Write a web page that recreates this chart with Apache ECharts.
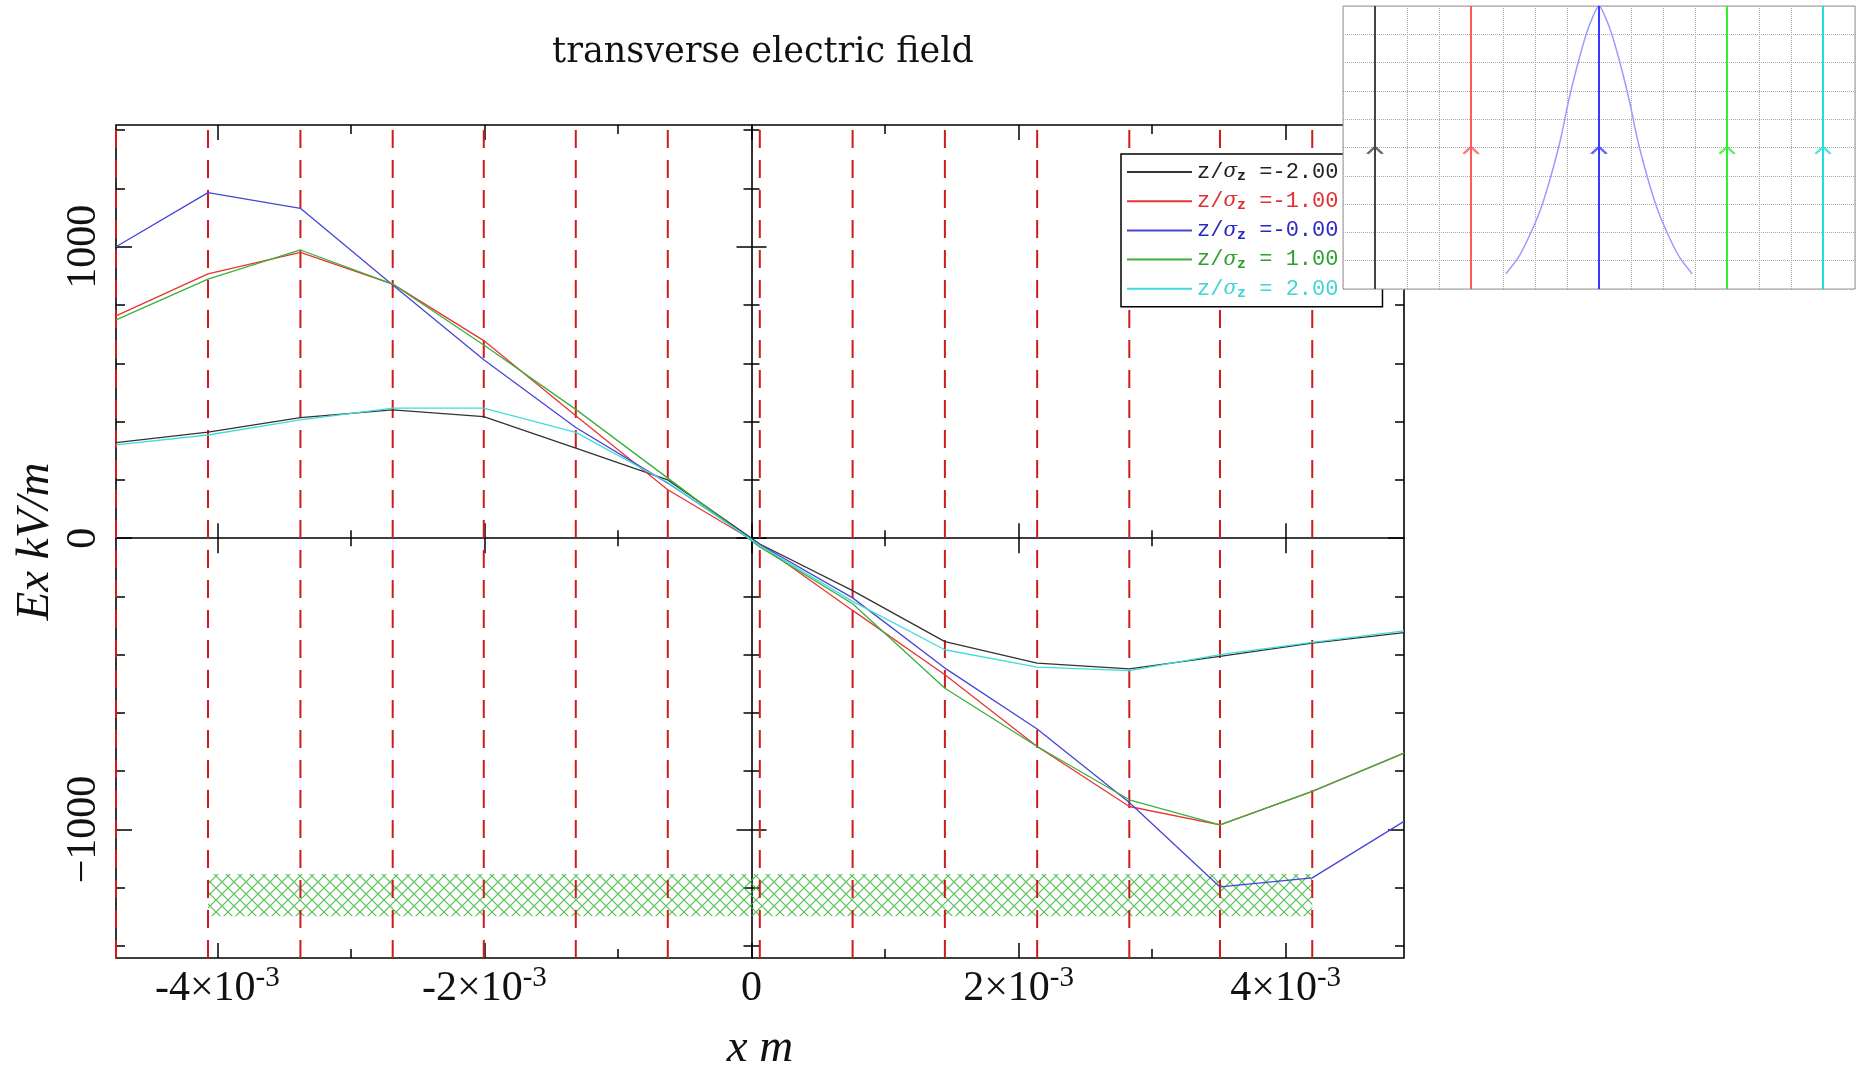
<!DOCTYPE html>
<html><head><meta charset="utf-8">
<script src="https://cdn.jsdelivr.net/npm/echarts@6/dist/echarts.min.js"></script>
<style>html,body{margin:0;padding:0;background:#fff}#c{width:1858px;height:1067px}</style>
</head><body><div id="c"></div>
<script>
// ---------- data ----------
const xs = [-4.759e-3, -4.070e-3, -3.378e-3, -2.687e-3, -2.005e-3, -1.316e-3, -0.627e-3, 0.062e-3,
            0.757e-3, 1.448e-3, 2.139e-3, 2.829e-3, 3.508e-3, 4.199e-3, 4.886e-3];
const zLabels = ['-2.00', '-1.00', '-0.00', ' 1.00', ' 2.00'];
const exZm2 = [328, 364, 414, 440, 417, 309, 200, -20, -180, -355, -429, -449, -406, -360, -324];
const exZm1 = [763, 907, 981, 872, 678, 420, 166, -22, -248, -469, -715, -921, -984, -869, -738];
const exZ0  = [1000, 1186, 1132, 869, 612, 380, 189, -22, -205, -446, -655, -907, -1197, -1166, -972];
const exZp1 = [749, 889, 989, 872, 663, 442, 206, -30, -225, -515, -715, -898, -984, -869, -738];
const exZp2 = [320, 354, 406, 446, 446, 363, 191, -25, -217, -383, -443, -455, -400, -358, -318];
const dashedXs = xs.slice(0, 14);
const bandX = [-4.070e-3, 4.199e-3];
const bandY = [-1298, -1153];
const xRange = [-4.759e-3, 4.886e-3];
const yRange = [-1441, 1418];
const xTicksMajor = [-4e-3, -2e-3, 0, 2e-3, 4e-3];
const xTicksMinor = [-4e-3, -3e-3, -2e-3, -1e-3, 0, 1e-3, 2e-3, 3e-3, 4e-3];
const yTicksMajor = [-1000, 0, 1000];
const yTicksMinor = [-1400, -1200, -1000, -800, -600, -400, -200, 0, 200, 400, 600, 800, 1000, 1200, 1400];
// inset
const insetXRange = [0, 16];
const insetYRange = [0, 10];
const insetPos = [1, 4, 8, 12, 15];
const insetArrowY = [4.9, 4.9, 4.9, 4.9, 4.9];
const gaussX = [5.09, 5.5, 5.89, 6.2, 6.5, 6.8, 7.04, 7.3, 7.6, 7.8, 8.0, 8.2, 8.4, 8.7, 8.96, 9.2, 9.5, 9.8, 10.11, 10.5, 10.91];
const gaussY = [0.54, 1.15, 2.04, 2.9, 4.0, 5.3, 6.6, 7.8, 9.0, 9.6, 10.0, 9.6, 9.0, 7.8, 6.6, 5.3, 4.0, 2.9, 2.04, 1.15, 0.54];

// ---------- styles ----------
const seriesVals = [exZm2, exZm1, exZ0, exZp1, exZp2];
const lineColors = ['#333333', '#e83434', '#4646d6', '#3cb03c', '#40dcdc'];
const textColors = ['#222222', '#e03030', '#2a2ac0', '#30a030', '#40d4d4'];
const insetColors = ['#444444', '#ff5a5a', '#3a3aff', '#33ee33', '#22dede'];

const hatch = document.createElement('canvas');
hatch.width = 12; hatch.height = 12;
(function () {
  const g = hatch.getContext('2d');
  g.strokeStyle = 'rgba(55,180,55,0.85)';
  g.lineWidth = 1.2;
  g.beginPath();
  g.moveTo(-1, -1); g.lineTo(13, 13);
  g.moveTo(13, -1); g.lineTo(-1, 13);
  g.stroke();
})();

function mkAxis(dim, pos, vals, len, inside, onZero, extra) {
  const range = dim === 'x' ? xRange : yRange;
  const o = {
    type: 'value', gridIndex: 0, position: pos, min: range[0], max: range[1],
    axisLine: { show: false, onZero: onZero, onZeroAxisIndex: 0 },
    axisTick: { show: true, inside: inside, length: len, customValues: vals,
                lineStyle: { color: '#000', width: 1.5 } },
    axisLabel: { show: false },
    splitLine: { show: false },
    silent: true
  };
  return Object.assign(o, extra || {});
}
const zeroLine = { show: true, onZero: true, onZeroAxisIndex: 0, lineStyle: { color: '#000', width: 1.6 } };

const xAxes = [
  mkAxis('x', 'bottom', xTicksMajor, 15, true, false, {
    axisLabel: {
      show: true, customValues: xTicksMajor, margin: 6,
      formatter: function (v) {
        const k = Math.round(v * 1000);
        if (k === 0) return '{n|0}';
        return '{n|' + (k < 0 ? '-' : '') + Math.abs(k) + '×10}{p|-3}';
      },
      rich: {
        n: { fontFamily: 'Liberation Serif', fontSize: 42, color: '#111', lineHeight: 46, verticalAlign: 'bottom' },
        p: { fontFamily: 'Liberation Serif', fontSize: 29, color: '#111', lineHeight: 46, verticalAlign: 'top' }
      }
    },
    name: 'x m', nameLocation: 'middle', nameGap: 67,
    nameTextStyle: { fontFamily: 'Liberation Serif', fontStyle: 'italic', fontSize: 47, color: '#111' }
  }),
  mkAxis('x', 'bottom', xTicksMinor, 9, true, false),
  mkAxis('x', 'top', xTicksMajor, 15, true, false),
  mkAxis('x', 'top', xTicksMinor, 9, true, false),
  mkAxis('x', 'bottom', xTicksMajor, 15, true, true, { axisLine: zeroLine }),
  mkAxis('x', 'bottom', xTicksMajor, 15, false, true),
  mkAxis('x', 'bottom', xTicksMinor, 8, true, true),
  mkAxis('x', 'bottom', xTicksMinor, 8, false, true),
  { type: 'value', gridIndex: 1, min: insetXRange[0], max: insetXRange[1], interval: 1, zlevel: 1,
    axisLine: { show: false }, axisTick: { show: false }, axisLabel: { show: false },
    splitLine: { show: true, lineStyle: { color: '#a8a8a8', type: 'dotted', width: 1 } } }
];
const yAxes = [
  mkAxis('y', 'left', yTicksMajor, 16, true, false, {
    axisLabel: {
      show: true, customValues: yTicksMajor, margin: 11, rotate: 90,
      fontFamily: 'Liberation Serif', fontSize: 42, color: '#111',
      formatter: function (v) { return v < 0 ? '\u2212' + Math.abs(v) : String(v); }
    },
    name: 'Ex kV/m', nameLocation: 'middle', nameGap: 57, nameRotate: 90, nameMoveOverlap: false,
    nameTextStyle: { fontFamily: 'Liberation Serif', fontStyle: 'italic', fontSize: 47, color: '#111' }
  }),
  mkAxis('y', 'left', yTicksMinor, 9, true, false),
  mkAxis('y', 'right', yTicksMajor, 16, true, false),
  mkAxis('y', 'right', yTicksMinor, 9, true, false),
  mkAxis('y', 'left', yTicksMajor, 15, true, true, { axisLine: zeroLine }),
  mkAxis('y', 'left', yTicksMajor, 15, false, true),
  mkAxis('y', 'left', yTicksMinor, 8, true, true),
  mkAxis('y', 'left', yTicksMinor, 8, false, true),
  { type: 'value', gridIndex: 1, min: insetYRange[0], max: insetYRange[1], interval: 1, zlevel: 1,
    axisLine: { show: false }, axisTick: { show: false }, axisLabel: { show: false },
    splitLine: { show: true, lineStyle: { color: '#a8a8a8', type: 'dotted', width: 1 } } }
];

const series = [];
// hatched band
series.push({
  type: 'line', name: 'band', xAxisIndex: 0, yAxisIndex: 0, data: [], silent: true, z: 1,
  markArea: {
    silent: true, animation: false,
    itemStyle: { color: { image: hatch, repeat: 'repeat' }, opacity: 1 },
    data: [[{ xAxis: bandX[0], yAxis: bandY[0] }, { xAxis: bandX[1], yAxis: bandY[1] }]]
  }
});
// red dashed vertical lines at the grid points
dashedXs.forEach(v => {
  series.push({
    type: 'line', xAxisIndex: 0, yAxisIndex: 0, silent: true, z: 2, symbol: 'none',
    data: [[v, yRange[0]], [v, yRange[1]]],
    lineStyle: { color: '#cc1c1c', width: 2, type: [18, 12] }
  });
});
seriesVals.forEach((vals, i) => {
  series.push({
    type: 'line', name: zLabels[i], xAxisIndex: 0, yAxisIndex: 0, z: 3,
    data: xs.map((x, j) => [x, vals[j]]),
    symbol: 'none', showSymbol: false,
    lineStyle: { color: lineColors[i], width: 1.3 }, itemStyle: { color: lineColors[i] }
  });
});
// inset
series.push({
  type: 'line', xAxisIndex: 8, yAxisIndex: 8, zlevel: 1, silent: true, smooth: 0.3,
  data: gaussX.map((x, j) => [x, gaussY[j]]), symbol: 'none',
  lineStyle: { color: '#9c9cff', width: 1.5 }
});
insetPos.forEach((p, i) => {
  series.push({
    type: 'line', xAxisIndex: 8, yAxisIndex: 8, zlevel: 1, silent: true, symbol: 'none',
    data: [[p, insetYRange[0]], [p, insetYRange[1]]],
    lineStyle: { color: insetColors[i], width: 2 }
  });
});
series.push({
  type: 'scatter', xAxisIndex: 8, yAxisIndex: 8, zlevel: 1, silent: true,
  symbol: 'path://M0,10 L10,0 L20,10', symbolSize: [15, 7],
  data: insetPos.map((p, i) => ({
    value: [p, insetArrowY[i]],
    itemStyle: { color: 'rgba(0,0,0,0)', borderColor: insetColors[i], borderWidth: 2 }
  }))
});

const rich = {};
textColors.forEach((c, i) => {
  rich['m' + i] = { fontFamily: 'Liberation Mono', fontSize: 22, color: c, lineHeight: 24, verticalAlign: 'middle' };
  rich['g' + i] = { fontFamily: 'DejaVu Serif', fontStyle: 'italic', fontSize: 20, color: c, lineHeight: 24, verticalAlign: 'middle' };
  rich['s' + i] = { fontFamily: 'Liberation Mono', fontSize: 15, fontWeight: 'bold', color: c, lineHeight: 15, verticalAlign: 'bottom' };
});

const option = {
  animation: false,
  backgroundColor: '#fff',
  title: {
    text: 'transverse electric field', left: 758, top: 30, textAlign: 'center',
    textStyle: { fontFamily: 'DejaVu Serif', fontSize: 35, fontWeight: 'normal', color: '#111' }
  },
  legend: {
    data: zLabels, orient: 'vertical', left: 1121, top: 154,
    padding: [7, 44, 6, 6], itemGap: 6.2, itemWidth: 65, itemHeight: 2, icon: 'rect',
    backgroundColor: '#fff', borderColor: '#000', borderWidth: 1.5, borderRadius: 0,
    selectedMode: false,
    formatter: function (name) {
      const i = zLabels.indexOf(name);
      return '{m' + i + '|z/}{g' + i + '|σ}{s' + i + '|z}{m' + i + '| =' + name + '}';
    },
    textStyle: { rich: rich, fontFamily: 'Liberation Mono', fontSize: 22 }
  },
  grid: [
    { left: 116, right: 454, top: 125, bottom: 109, show: true, borderColor: '#000', borderWidth: 1.6,
      backgroundColor: 'rgba(0,0,0,0)', containLabel: false, outerBoundsMode: 'none' },
    { left: 1343, top: 6, width: 512, height: 283, show: true, zlevel: 1, z: 0,
      borderColor: '#999', borderWidth: 1, backgroundColor: '#fff', containLabel: false, outerBoundsMode: 'none' }
  ],
  xAxis: xAxes,
  yAxis: yAxes,
  series: series
};
const chart = echarts.init(document.getElementById('c'), null, { renderer: 'canvas' });
chart.setOption(option);
</script>
</body></html>
